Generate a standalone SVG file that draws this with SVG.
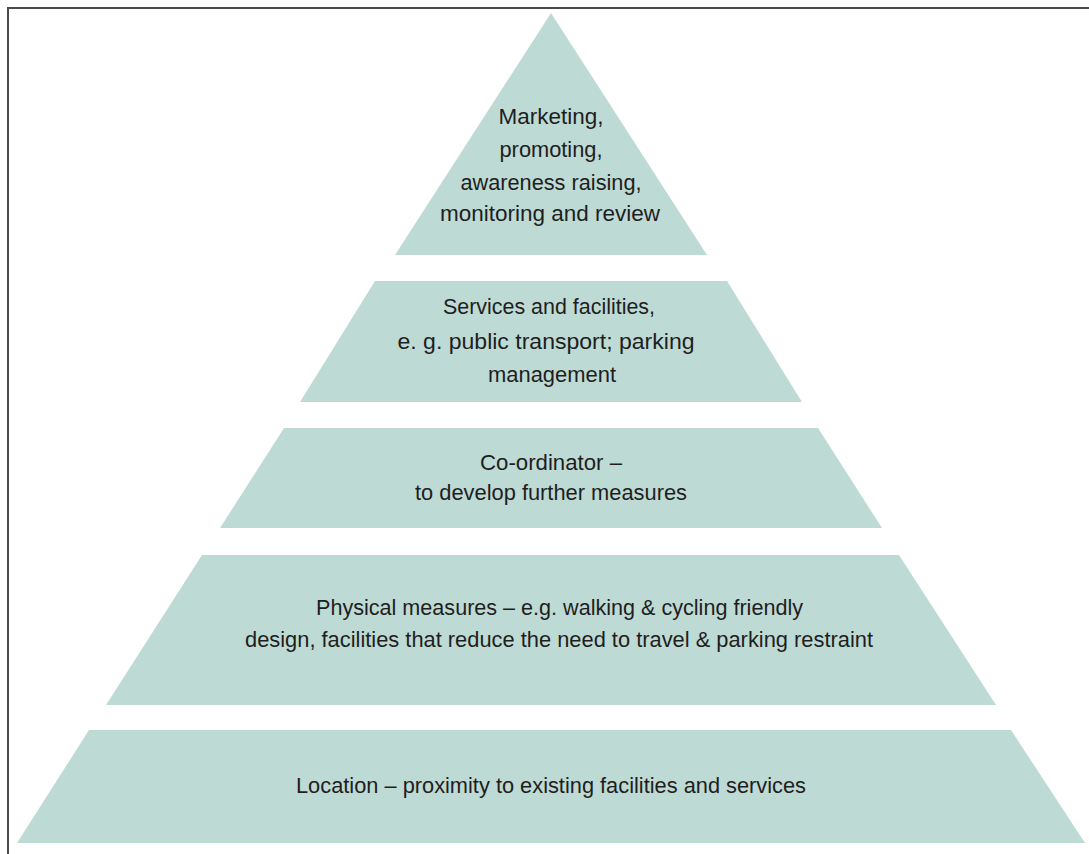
<svg xmlns="http://www.w3.org/2000/svg" width="1089" height="854" viewBox="0 0 1089 854">
<style>
.tier{fill:#bedad4;}
.t{font-family:"Liberation Sans",Arial,sans-serif;font-size:22px;fill:#1e1e1e;text-anchor:middle;}
</style>
<rect width="1089" height="854" fill="#ffffff"/>
<path d="M8,854 V8 H1089" fill="none" stroke="#4a4a4a" stroke-width="2"/>
<g id="tier1">
<polygon class="tier" points="551,13 707,255 395,255"/>
<text class="t" x="551" y="124" textLength="105" lengthAdjust="spacingAndGlyphs">Marketing,</text>
<text class="t" x="551" y="157" textLength="103" lengthAdjust="spacingAndGlyphs">promoting,</text>
<text class="t" x="551" y="190" textLength="181" lengthAdjust="spacingAndGlyphs">awareness raising,</text>
<text class="t" x="550" y="221" textLength="220" lengthAdjust="spacingAndGlyphs">monitoring and review</text>
</g>
<g id="tier2">
<polygon class="tier" points="375,281 727,281 802,402 300,402"/>
<text class="t" x="549" y="314" textLength="212" lengthAdjust="spacingAndGlyphs">Services and facilities,</text>
<text class="t" x="546" y="349" textLength="297" lengthAdjust="spacingAndGlyphs">e. g. public transport; parking</text>
<text class="t" x="552" y="382" textLength="128" lengthAdjust="spacingAndGlyphs">management</text>
</g>
<g id="tier3">
<polygon class="tier" points="284,428 818,428 882,528 220,528"/>
<text class="t" x="551" y="470" textLength="142" lengthAdjust="spacingAndGlyphs">Co-ordinator –</text>
<text class="t" x="551" y="500" textLength="272" lengthAdjust="spacingAndGlyphs">to develop further measures</text>
</g>
<g id="tier4">
<polygon class="tier" points="202,555 899,555 996,705 106,705"/>
<text class="t" x="559.5" y="615" textLength="487" lengthAdjust="spacingAndGlyphs">Physical measures – e.g. walking &amp; cycling friendly</text>
<text class="t" x="559" y="647" textLength="628" lengthAdjust="spacingAndGlyphs">design, facilities that reduce the need to travel &amp; parking restraint</text>
</g>
<g id="tier5">
<polygon class="tier" points="89,730 1011,730 1085,843 17,843"/>
<text class="t" x="551" y="793" textLength="510" lengthAdjust="spacingAndGlyphs">Location – proximity to existing facilities and services</text>
</g>
<g id="connectors"></g>
</svg>
